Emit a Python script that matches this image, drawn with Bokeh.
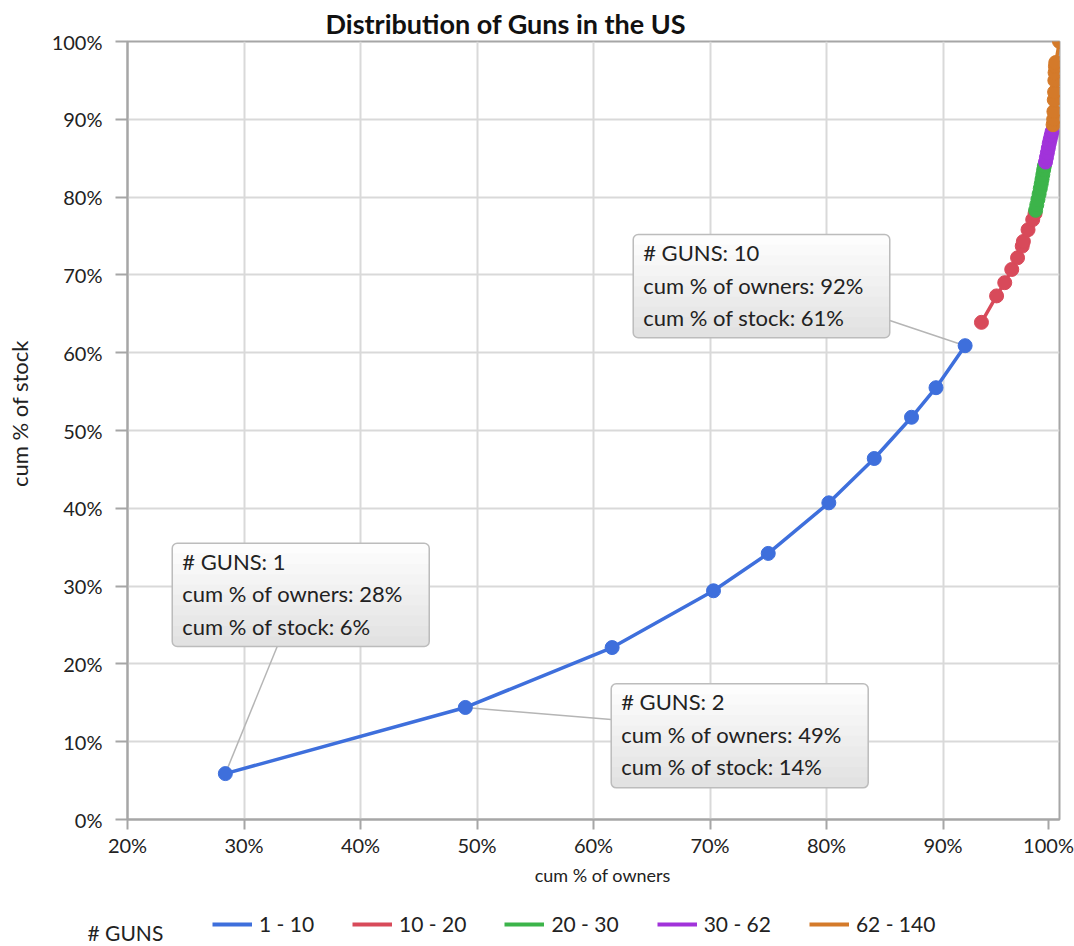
from bokeh.plotting import figure
from bokeh.models import Range1d, FixedTicker, Label, BoxAnnotation, Legend, LegendItem
from bokeh.layouts import column
from bokeh.embed import file_html
from bokeh.resources import INLINE

# ---------------- data ----------------
guns_1_10 = [1, 2, 3, 4, 5, 6, 7, 8, 9, 10]
owners_1_10 = [28.4, 49.0, 61.6, 70.3, 75.0, 80.2, 84.1, 87.3, 89.4, 91.9]
stock_1_10 = [5.9, 14.4, 22.1, 29.4, 34.2, 40.7, 46.4, 51.7, 55.5, 60.9]

guns_10_20 = [11, 12, 13, 14, 15, 16, 17, 18, 19, 20]
owners_10_20 = [93.3, 94.6, 95.3, 95.9, 96.4, 96.8, 96.9, 97.3, 97.7, 97.9]
stock_10_20 = [63.9, 67.3, 69.0, 70.7, 72.2, 73.7, 74.3, 75.8, 77.1, 77.9]

guns_20_30 = [21, 22, 23, 24, 25, 26, 27, 28, 29, 30]
owners_20_30 = [97.95, 98.05, 98.15, 98.25, 98.35, 98.43, 98.5, 98.57, 98.64, 98.7]
stock_20_30 = [78.3, 79.0, 79.7, 80.4, 81.1, 81.7, 82.3, 82.9, 83.5, 84.0]

guns_30_62 = [32, 35, 36, 40, 45, 50, 55, 60]
owners_30_62 = [98.8, 98.88, 98.96, 99.04, 99.12, 99.2, 99.28, 99.36]
stock_30_62 = [84.5, 85.1, 85.7, 86.3, 86.9, 87.4, 87.9, 88.4]

guns_62_140 = [65, 70, 75, 80, 90, 100, 110, 120, 130, 140]
owners_62_140 = [99.45, 99.5, 99.52, 99.55, 99.58, 99.6, 99.62, 99.65, 99.68, 100.0]
stock_62_140 = [89.3, 90.0, 91.0, 92.5, 93.5, 95.0, 96.0, 96.8, 97.3, 100.0]

legend_title = "# GUNS"
series_labels = ["1 - 10", "10 - 20", "20 - 30", "30 - 62", "62 - 140"]
series_colors = ["#3e6fdc", "#d84a5a", "#3cb44a", "#a133da", "#d47a2a"]

x_ticks = [20, 30, 40, 50, 60, 70, 80, 90, 100]
y_ticks = [0, 10, 20, 30, 40, 50, 60, 70, 80, 90, 100]

# ---------------- layout ----------------
FONT = "Lato"
TXT = "#222222"
NBSP = "\u00a0"
FRAME_W, FRAME_H = 932, 778
X0, X1, Y0, Y1 = 20, 100, 0, 100
XPX = FRAME_W / (X1 - X0)
YPX = FRAME_H / (Y1 - Y0)

def dx(px):
    return px / XPX

def dy(px):
    return px / YPX

p = figure(width=1074, height=900, output_backend="svg", toolbar_location=None,
           x_range=Range1d(X0, X1), y_range=Range1d(Y0, Y1),
           min_border_left=127, min_border_right=15, min_border_top=41, min_border_bottom=81)
p.title.text = "Distribution of Guns in the US"
p.title.align = "left"
p.title.offset = 198
p.title.standoff = 4
p.title.text_font = FONT
p.title.text_font_size = "27px"
p.title.text_font_style = "bold"
p.title.text_color = "#111111"
p.background_fill_color = "white"
p.border_fill_color = "white"
p.outline_line_color = "#a6a6a6"
p.outline_line_width = 2

for ax in (p.xaxis[0], p.yaxis[0]):
    ax.axis_line_color = "#a6a6a6"
    ax.axis_line_width = 2
    ax.major_tick_line_color = "#a6a6a6"
    ax.major_tick_line_width = 2
    ax.major_tick_in = 0
    ax.minor_tick_line_color = None
    ax.major_label_text_font = FONT
    ax.major_label_text_font_size = "20px"
    ax.major_label_text_color = TXT
    ax.axis_label_text_font = FONT
    ax.axis_label_text_font_style = "normal"
    ax.axis_label_text_color = TXT

# the last x label is nudged left so that it stays inside the canvas
x_label_pos = x_ticks[:-1] + [X1 - dx(11)]
p.xaxis.ticker = FixedTicker(ticks=x_label_pos)
p.xaxis.major_label_overrides = {v: f"{t}%" for v, t in zip(x_label_pos, x_ticks)}
p.yaxis.ticker = FixedTicker(ticks=y_ticks)
p.yaxis.major_label_overrides = {t: f"{t}%" for t in y_ticks}
p.xaxis.major_tick_out = 10
p.yaxis.major_tick_out = 12
p.xaxis.major_label_standoff = 3
p.yaxis.major_label_standoff = 13
p.xaxis.axis_label = NBSP * 4 + "cum % of owners"
p.yaxis.axis_label = NBSP * 6 + "cum % of stock"
p.xaxis.axis_label_text_font_size = "18px"
p.yaxis.axis_label_text_font_size = "22px"
p.xaxis.axis_label_standoff = 4
p.yaxis.axis_label_standoff = 16

p.xgrid.ticker = FixedTicker(ticks=x_ticks)
p.ygrid.ticker = FixedTicker(ticks=y_ticks)
p.grid.grid_line_color = "#d9d9d9"
p.grid.grid_line_width = 2

# ---------------- callouts (leader lines first) ----------------
callout_idx = [0, 1, 9]
callout_boxes = {0: (23.84, 45.90, 35.51, 22.24),
                 1: (61.52, 83.58, 17.44, 4.07),
                 9: (63.41, 85.43, 75.19, 61.92)}
callout_anchor = {0: (32.85, 22.24), 1: (61.52, 12.85), 9: (85.43, 64.14)}

p.segment(x0=[owners_1_10[i] for i in callout_idx], y0=[stock_1_10[i] for i in callout_idx],
          x1=[callout_anchor[i][0] for i in callout_idx], y1=[callout_anchor[i][1] for i in callout_idx],
          line_color="#b5b5b5", line_width=1.5)

# ---------------- series ----------------
series = [(owners_1_10, stock_1_10), (owners_10_20, stock_10_20), (owners_20_30, stock_20_30),
          (owners_30_62, stock_30_62), (owners_62_140, stock_62_140)]
for (xs, ys), col in zip(series, series_colors):
    p.line(xs, ys, line_color=col, line_width=3.5)
    p.scatter(xs, ys, size=14, fill_color=col, line_color=col)

# callout boxes with a soft vertical gradient
N = 10
c_top, c_bot = (253, 253, 253), (226, 226, 226)
for i in callout_idx:
    l, r_, t, b = callout_boxes[i]
    h = t - b
    for k in range(N):
        f = k / (N - 1)
        col = tuple(int(round(c_top[j] + (c_bot[j] - c_top[j]) * f)) for j in range(3))
        rad = 5 if k == 0 else (0, 0, 5, 5)
        p.add_layout(BoxAnnotation(left=l, right=r_, top=t - h * k / N, bottom=b,
                                   fill_color="#%02x%02x%02x" % col, fill_alpha=1,
                                   line_color=None, border_radius=rad))
    p.add_layout(BoxAnnotation(left=l, right=r_, top=t, bottom=b, fill_alpha=0,
                               line_color="#bcbcbc", line_alpha=1, line_width=1.5,
                               border_radius=5))
    lines = [f"# GUNS: {guns_1_10[i]}",
             f"cum % of owners: {round(owners_1_10[i])}%",
             f"cum % of stock: {round(stock_1_10[i])}%"]
    for k, txt in enumerate(lines):
        p.add_layout(Label(x=l, y=t - dy(18 + 32.5 * k), x_offset=10, text=txt,
                           text_font=FONT, text_font_size="22px", text_color=TXT,
                           text_baseline="middle", text_align="left"))

# ---------------- legend strip (its own small canvas, 1 unit = 1 px) ----------------
LW, LH = 1074, 46
lg = figure(width=LW, height=LH, output_backend="svg", toolbar_location=None,
            x_range=Range1d(0, LW), y_range=Range1d(0, LH),
            min_border_left=0, min_border_right=0, min_border_top=0, min_border_bottom=0)
if "frame_align" in lg.properties():
    lg.frame_align = False
lg.axis.visible = False
lg.grid.visible = False
lg.outline_line_color = None
lg.background_fill_color = "white"
lg.border_fill_color = "white"
items = []
for lab, col in zip(series_labels, series_colors):
    # swatch-only renderer, kept outside the visible range
    r = lg.line(x=[-20, -10], y=[-20, -10], line_color=col, line_width=4)
    items.append(LegendItem(label=lab, renderers=[r]))
legend = Legend(items=items, orientation="horizontal", location=(212, 10),
                glyph_width=40, glyph_height=24, label_standoff=7, spacing=38,
                padding=0, margin=0, border_line_alpha=0, background_fill_alpha=0,
                label_text_font=FONT, label_text_font_size="21px", label_text_color=TXT,
                label_text_baseline="middle")
lg.add_layout(legend, "center")
lg.add_layout(Label(x=87, y=14, text=legend_title, text_font=FONT, text_font_size="21px",
                    text_color=TXT, text_baseline="middle"))

open("out.html", "w").write(file_html(column(p, lg, spacing=0), INLINE))
